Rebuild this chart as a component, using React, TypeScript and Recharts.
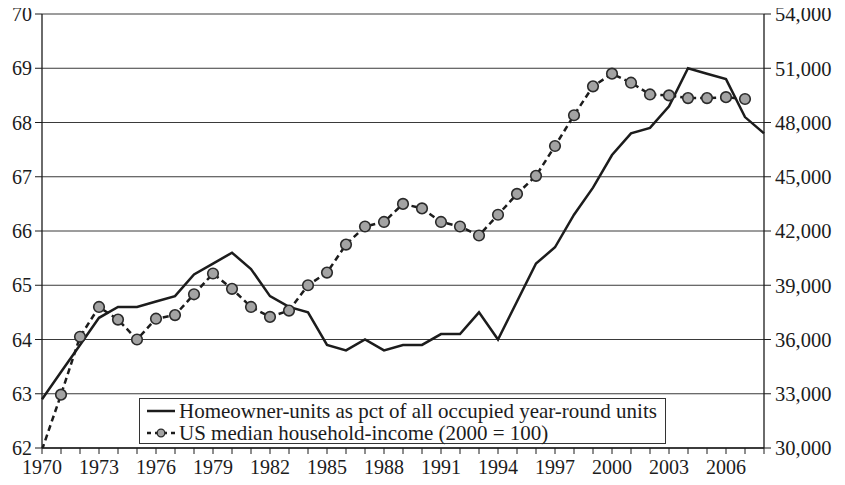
import React from 'react';
import { LineChart, Line, XAxis, YAxis, CartesianGrid } from 'recharts';

const years = [1970,1971,1972,1973,1974,1975,1976,1977,1978,1979,1980,1981,1982,1983,1984,1985,1986,1987,1988,1989,1990,1991,1992,1993,1994,1995,1996,1997,1998,1999,2000,2001,2002,2003,2004,2005,2006,2007,2008];
const homeownership = [62.9,63.4,63.9,64.4,64.6,64.6,64.7,64.8,65.2,65.4,65.6,65.3,64.8,64.6,64.5,63.9,63.8,64.0,63.8,63.9,63.9,64.1,64.1,64.5,64.0,64.7,65.4,65.7,66.3,66.8,67.4,67.8,67.9,68.3,69.0,68.9,68.8,68.1,67.8];
const income: (number | null)[] = [29900,32950,36150,37800,37100,36000,37150,37350,38500,39650,38800,37800,37250,37600,39000,39700,41250,42250,42500,43500,43250,42500,42250,41750,42900,44050,45050,46700,48400,50000,50700,50200,49550,49500,49350,49350,49400,49300,null];

const leftTicks = [62,63,64,65,66,67,68,69,70];
const rightTicks = [30000,33000,36000,39000,42000,45000,48000,51000,54000];
const labelYears = [1970,1973,1976,1979,1982,1985,1988,1991,1994,1997,2000,2003,2006];

const seriesNames = [
  'Homeowner-units as pct of all occupied year-round units',
  'US median household-income (2000 = 100)',
];

const data = years.map((y, i) => ({ year: y, own: homeownership[i], inc: income[i] }));

const FONT = '"Liberation Serif", "DejaVu Serif", serif';
const INK = '#1c1c1c';

const IncomeDot = (props: any) => {
  const { cx, cy, index } = props;
  if (index === 0 || cx == null || cy == null) return null;
  return <circle cx={cx} cy={cy} r={5.3} fill="#a3a3a3" stroke="#2a2a2a" strokeWidth={1.6} />;
};

const LegendBox = () => (
  <div style={{
    position: 'absolute', left: 139, top: 398,
    border: '1.5px solid #333', background: '#fff', width: 527, height: 46, padding: '1px 6px 0 6px',
    fontFamily: FONT, fontSize: 21, color: INK, lineHeight: '22px', boxSizing: 'border-box',
  }}>
    <div style={{ display: 'flex', alignItems: 'center', whiteSpace: 'nowrap' }}>
      <svg width={30} height={12} style={{ marginRight: 3, flex: 'none' }}>
        <line x1={1} y1={6} x2={29} y2={6} stroke={INK} strokeWidth={2.5} />
      </svg>
      <span>{seriesNames[0]}</span>
    </div>
    <div style={{ display: 'flex', alignItems: 'center', whiteSpace: 'nowrap' }}>
      <svg width={30} height={12} style={{ marginRight: 3, flex: 'none' }}>
        <line x1={1} y1={6} x2={29} y2={6} stroke={INK} strokeWidth={2.5} strokeDasharray="4 4" />
        <circle cx={15} cy={6} r={3.8} fill="#a3a3a3" stroke="#2a2a2a" strokeWidth={1.3} />
      </svg>
      <span>{seriesNames[1]}</span>
    </div>
  </div>
);

export default function App() {
  return (
    <div style={{ position: 'relative', margin: '-8px 0 0 -8px', width: 845, height: 485 }}>
      <LineChart width={845} height={485} data={data} margin={{ top: 14, right: 0, bottom: 0, left: 0 }}>
        <CartesianGrid yAxisId="left" vertical={false} stroke="#3a3a3a" strokeWidth={1} />
        <XAxis
          dataKey="year"
          type="number"
          domain={[1970, 2008]}
          ticks={years}
          interval={0}
          tickFormatter={(v: number) => (labelYears.includes(v) ? String(v) : '')}
          tick={{ fontFamily: FONT, fontSize: 20, fill: INK }}
          tickSize={6}
          tickLine={{ stroke: INK }}
          axisLine={{ stroke: INK, strokeWidth: 1.3 }}
          height={37}
          tickMargin={6}
        />
        <YAxis
          yAxisId="left"
          domain={[62, 70]}
          ticks={leftTicks}
          interval={0}
          width={42}
          tick={{ fontFamily: FONT, fontSize: 20, fill: INK }}
          tickSize={7}
          tickMargin={3}
          tickLine={{ stroke: INK }}
          axisLine={{ stroke: INK, strokeWidth: 1.3 }}
        />
        <YAxis
          yAxisId="right"
          orientation="right"
          domain={[30000, 54000]}
          allowDataOverflow
          ticks={rightTicks}
          interval={0}
          width={81}
          tickFormatter={(v: number) => v.toLocaleString('en-US')}
          tick={{ fontFamily: FONT, fontSize: 20.5, fill: INK, textAnchor: 'start' }}
          tickSize={7}
          tickMargin={4}
          tickLine={{ stroke: INK }}
          axisLine={{ stroke: INK, strokeWidth: 1.3 }}
        />
        <Line
          yAxisId="left"
          dataKey="own"
          name={seriesNames[0]}
          stroke={INK}
          strokeWidth={2.5}
          dot={false}
          type="linear"
          isAnimationActive={false}
        />
        <Line
          yAxisId="right"
          dataKey="inc"
          name={seriesNames[1]}
          stroke={INK}
          strokeWidth={2.5}
          strokeDasharray="6 4"
          dot={<IncomeDot />}
          type="linear"
          connectNulls={false}
          isAnimationActive={false}
        />
      </LineChart>
      <LegendBox />
    </div>
  );
}
